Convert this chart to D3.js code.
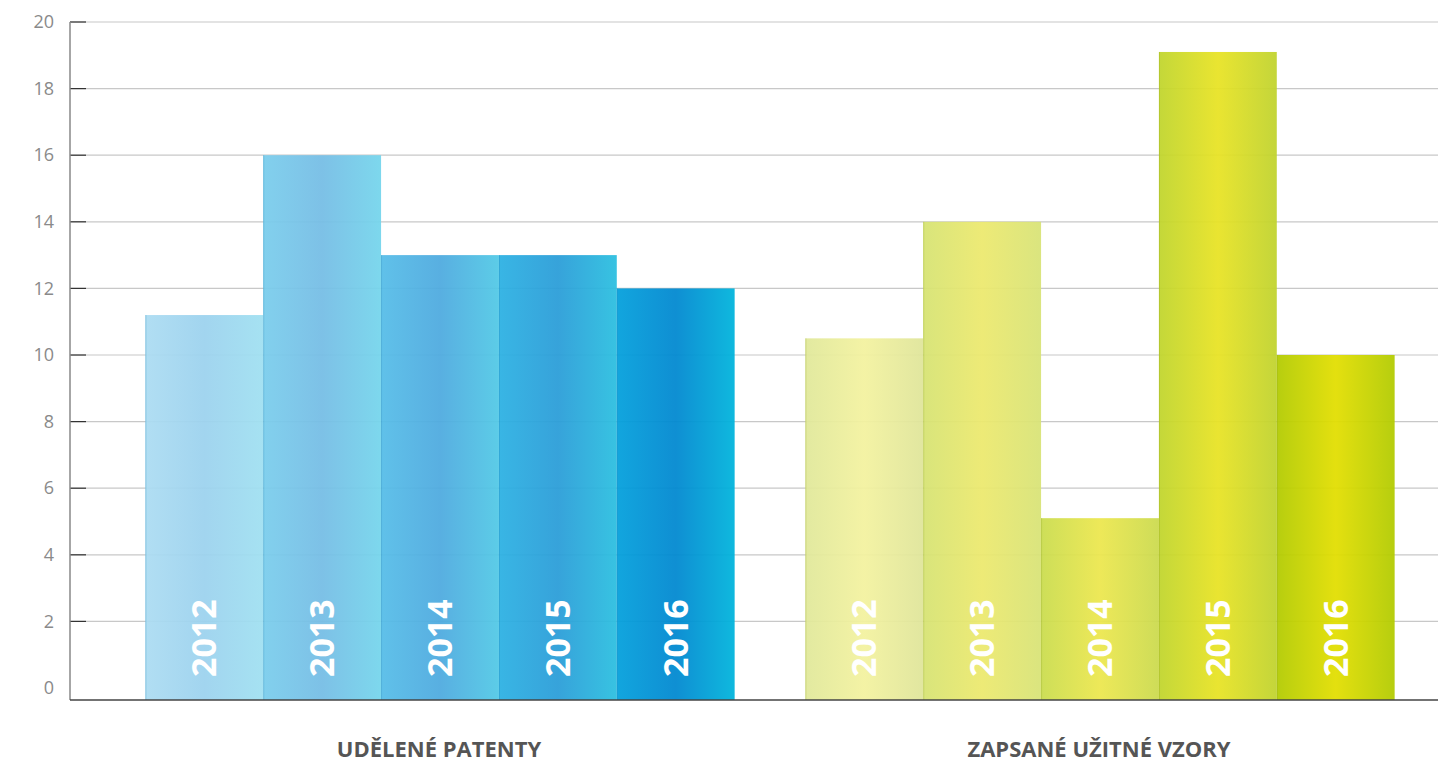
<!DOCTYPE html>
<html>
<head>
<meta charset="utf-8">
<script src="https://cdn.jsdelivr.net/npm/d3@7"></script>
<style>
  body { margin: 0; background: #fff; }
  svg { display: block; font-family: "Open Sans", sans-serif; }
</style>
</head>
<body>
<div id="chart"></div>
<script>
// data
const groups = ["UDĚLENÉ PATENTY", "ZAPSANÉ UŽITNÉ VZORY"];
const years = ["2012", "2013", "2014", "2015", "2016"];
const patents = [11.2, 16, 13, 13, 12];
const utilityModels = [10.5, 14, 5.1, 19.1, 10];
const yTicks = [0, 2, 4, 6, 8, 10, 12, 14, 16, 18, 20];

// gradient stops per bar (left, middle, right)
const blueStops = [
  ["#acdcf2", "#9cd2ee", "#a0e0f1"],
  ["#7acdec", "#75bde5", "#75d5ec"],
  ["#56bde8", "#4eaadf", "#52c9e6"],
  ["#2cb1e3", "#2a9dd8", "#2bbfe0"],
  ["#03a0dc", "#0088d0", "#00b4dc"]
];
const greenStops = [
  ["#e0e89a", "#f3f29f", "#dfe59a"],
  ["#d6e373", "#ece96e", "#d8e377"],
  ["#cadc4e", "#ece74e", "#cbda4e"],
  ["#c0d52d", "#e8e324", "#c0d32e"],
  ["#b2cb00", "#e2de00", "#b2cb00"]
];

const width = 1438;
const height = 764;
const margin = {left: 70, right: 0, top: 22, bottom: 64};

const svg = d3.select("#chart")
  .append("svg")
  .attr("width", width)
  .attr("height", height);

// the baseline sits a little below the zero value, as in the original
const y = d3.scaleLinear()
  .domain([-0.36, 20])
  .range([height - margin.bottom, margin.top]);

const x0 = d3.scaleBand()
  .domain(groups)
  .range([110, 1430]);

const x1 = d3.scaleBand()
  .domain(years)
  .range([0, x0.bandwidth()])
  .paddingInner(0)
  .paddingOuter(0.3);

// gradients
const defs = svg.append("defs");
function addGradient(id, stops) {
  const g = defs.append("linearGradient")
    .attr("id", id)
    .attr("x1", "0%").attr("x2", "100%")
    .attr("y1", "0%").attr("y2", "0%");
  g.append("stop").attr("offset", "0%").attr("stop-color", stops[0]);
  g.append("stop").attr("offset", "50%").attr("stop-color", stops[1]);
  g.append("stop").attr("offset", "100%").attr("stop-color", stops[2]);
}
blueStops.forEach((s, i) => addGradient("blue" + i, s));
greenStops.forEach((s, i) => addGradient("green" + i, s));

// grid lines
svg.append("g")
  .selectAll("line")
  .data(yTicks.filter(d => d > 0))
  .enter()
  .append("line")
  .attr("x1", margin.left)
  .attr("x2", width)
  .attr("y1", d => y(d))
  .attr("y2", d => y(d))
  .attr("stroke", "#c8c8c8")
  .attr("stroke-width", 1.2);

// y axis
const yAxis = svg.append("g")
  .attr("transform", `translate(${margin.left},0)`)
  .call(d3.axisLeft(y).tickValues(yTicks).tickSize(0).tickPadding(16));
yAxis.select(".domain").remove();
yAxis.selectAll("text")
  .attr("fill", "#8a8a8a")
  .attr("font-size", "18px")
  .attr("font-family", "Open Sans, sans-serif");

// short dark ticks
svg.append("g")
  .selectAll("line")
  .data(yTicks.filter(d => d > 0))
  .enter()
  .append("line")
  .attr("x1", margin.left)
  .attr("x2", margin.left + 16)
  .attr("y1", d => y(d))
  .attr("y2", d => y(d))
  .attr("stroke", "#333")
  .attr("stroke-width", 1.2);

// bars
const series = [patents, utilityModels];
const prefixes = ["blue", "green"];

series.forEach((vals, gi) => {
  const g = svg.append("g")
    .attr("transform", `translate(${x0(groups[gi])},0)`);

  g.selectAll(".bar")
    .data(vals)
    .enter()
    .append("rect")
    .attr("class", "bar")
    .attr("x", (d, i) => x1(years[i]))
    .attr("y", d => y(d))
    .attr("width", x1.bandwidth())
    .attr("height", d => y.range()[0] - y(d))
    .attr("fill", (d, i) => `url(#${prefixes[gi]}${i})`)
    .attr("fill-opacity", 0.94);

  // thin separators between bars
  g.selectAll(".sep")
    .data(vals)
    .enter()
    .append("line")
    .attr("x1", (d, i) => x1(years[i]) + 0.5)
    .attr("x2", (d, i) => x1(years[i]) + 0.5)
    .attr("y1", d => y(d))
    .attr("y2", y.range()[0])
    .attr("stroke", gi === 0 ? "rgba(40,140,190,0.35)" : "rgba(150,170,30,0.35)")
    .attr("stroke-width", 1);

  // rotated year labels
  g.selectAll(".year")
    .data(years)
    .enter()
    .append("text")
    .attr("class", "year")
    .attr("transform", d =>
      `translate(${x1(d) + x1.bandwidth() / 2 + 12},${y(0) - 11}) rotate(-90)`)
    .attr("fill", "#fff")
    .attr("font-size", "34px")
    .attr("font-weight", "bold")
    .text(d => d);

  // group label
  svg.append("text")
    .attr("x", x0(groups[gi]) + x0.bandwidth() / 2 - 1)
    .attr("y", 757)
    .attr("text-anchor", "middle")
    .attr("fill", "#555")
    .attr("font-size", "22px")
    .attr("font-weight", "bold")
    .text(groups[gi]);
});

// axis lines
svg.append("line")
  .attr("x1", margin.left)
  .attr("x2", margin.left)
  .attr("y1", y(20))
  .attr("y2", y.range()[0])
  .attr("stroke", "#888")
  .attr("stroke-width", 1.5);

svg.append("line")
  .attr("x1", margin.left)
  .attr("x2", width)
  .attr("y1", y.range()[0])
  .attr("y2", y.range()[0])
  .attr("stroke", "#444")
  .attr("stroke-width", 1.5);
</script>
</body>
</html>
